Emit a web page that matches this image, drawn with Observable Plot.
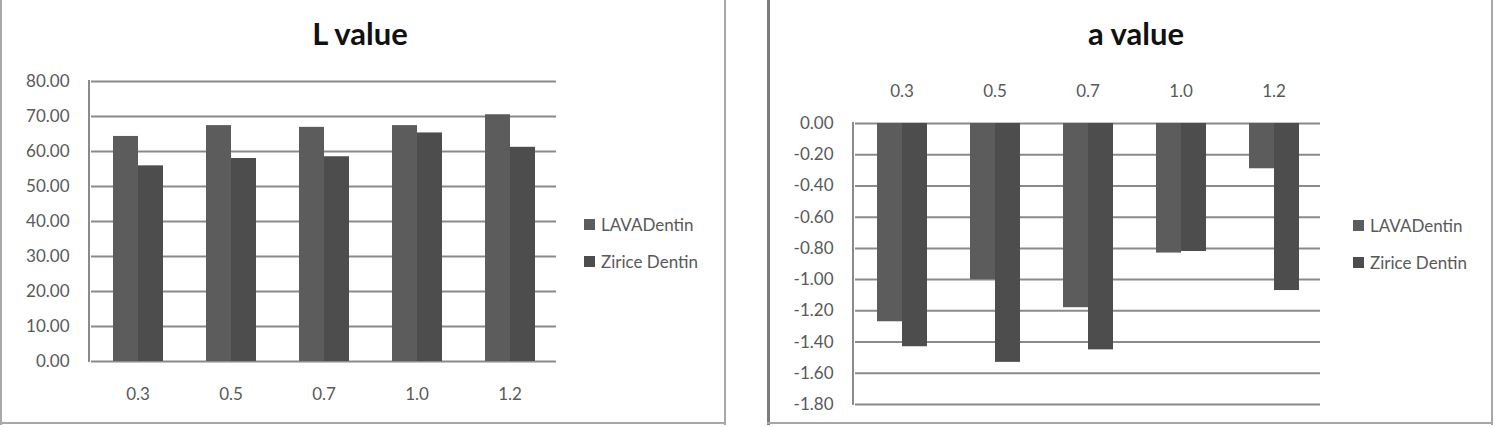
<!DOCTYPE html>
<html>
<head>
<meta charset="utf-8">
<script src="https://cdn.jsdelivr.net/npm/d3@7"></script>
<script src="https://cdn.jsdelivr.net/npm/@observablehq/plot@0.6"></script>
<style>
  body { margin: 0; background: #fff; width: 1505px; height: 427px; position: relative; overflow: hidden;
         font-family: Lato, "Open Sans", sans-serif; }
  .box { position: absolute; }
  .title { position: absolute; width: 300px; text-align: center; font-weight: bold; font-size: 31px;
           line-height: 1; color: #111; }
  .legend { position: absolute; font-size: 17px; color: #595959; }
  .legend .item { display: flex; align-items: center; height: 20px; margin-bottom: 17px; white-space: nowrap; }
  .legend .sw { width: 11px; height: 11px; margin-right: 6px; }
  .chart { position: absolute; top: 0; }
</style>
</head>
<body>
<!-- panel frames -->
<div class="box" style="left:0;top:0;width:2px;height:425px;background:#a8a8a8"></div>
<div class="box" style="left:724px;top:0;width:2px;height:425px;background:#a8a8a8"></div>
<div class="box" style="left:0;top:422px;width:726px;height:2px;background:#a8a8a8"></div>
<div class="box" style="left:767px;top:0;width:3px;height:425px;background:#7c7c7c"></div>
<div class="box" style="left:1491px;top:0;width:2px;height:425px;background:#a8a8a8"></div>
<div class="box" style="left:767px;top:422px;width:726px;height:2px;background:#a8a8a8"></div>

<div id="chartL" class="chart" style="left:0"></div>
<div id="chartA" class="chart" style="left:768px"></div>

<div class="title" id="titleL" style="left:210px;top:18px"></div>
<div class="title" id="titleA" style="left:986px;top:18px"></div>
<div class="legend" id="legL" style="left:584px;top:214px"></div>
<div class="legend" id="legA" style="left:1353px;top:215px"></div>

<script>
// ---- data ----
const categories = ["0.3", "0.5", "0.7", "1.0", "1.2"];
const seriesNames = ["LAVADentin", "Zirice Dentin"];
const lLava   = [64.3, 67.4, 66.9, 67.4, 70.5];
const lZirice = [55.9, 58.0, 58.5, 65.3, 61.2];
const aLava   = [-1.27, -1.00, -1.18, -0.83, -0.29];
const aZirice = [-1.43, -1.53, -1.45, -0.82, -1.07];
const lTicks = [0, 10, 20, 30, 40, 50, 60, 70, 80];
const aTicks = [0, -0.2, -0.4, -0.6, -0.8, -1.0, -1.2, -1.4, -1.6, -1.8];
const titles = ["L value", "a value"];
const colors = ["#5c5c5c", "#4d4d4d"];

function rows(a, b) {
  return categories.flatMap((c, i) => [
    {cat: c, s: seriesNames[0], v: a[i]},
    {cat: c, s: seriesNames[1], v: b[i]}
  ]);
}

function makeChart({data, ticks, domain, width, height, ml, mr, mt, mb, fxAnchor, fxPad}) {
  const p = Plot.plot({
    width, height,
    marginLeft: ml, marginRight: mr, marginTop: mt, marginBottom: mb,
    style: {fontFamily: "Lato, 'Open Sans', sans-serif", fontSize: "17px", color: "#595959", background: "transparent", overflow: "visible"},
    fx: {domain: categories, padding: 0, label: null},
    x: {domain: seriesNames, paddingInner: 0, paddingOuter: 0.8, axis: null},
    y: {domain, label: null},
    color: {domain: seriesNames, range: colors},
    marks: [
      Plot.ruleY(ticks, {stroke: "#8a8a8a", strokeWidth: 2}),
      Plot.barY(data, {fx: "cat", x: "s", y: "v", fill: "s"}),
      Plot.axisY(ticks, {tickSize: 0, tickPadding: 22, tickFormat: d => d.toFixed(2)}),
      Plot.axisFx({anchor: fxAnchor, tickSize: 0, tickPadding: fxPad, label: null})
    ]
  });
  const fx = p.scale("fx"), y = p.scale("y");
  d3.select(p).append("line")
    .attr("x1", fx.range[0]).attr("x2", fx.range[0])
    .attr("y1", Math.min(...y.range) - 1).attr("y2", Math.max(...y.range) + 1)
    .attr("stroke", "#8a8a8a").attr("stroke-width", 2);
  return p;
}

document.getElementById("chartL").append(makeChart({
  data: rows(lLava, lZirice), ticks: lTicks, domain: [0, 80],
  width: 727, height: 425, ml: 89, mr: 170, mt: 81, mb: 64, fxAnchor: "bottom", fxPad: 26
}));
document.getElementById("chartA").append(makeChart({
  data: rows(aLava, aZirice), ticks: aTicks, domain: [-1.8, 0],
  width: 737, height: 425, ml: 85, mr: 184, mt: 123, mb: 21, fxAnchor: "top", fxPad: 27
}));

document.getElementById("titleL").textContent = titles[0];
document.getElementById("titleA").textContent = titles[1];
for (const id of ["legL", "legA"]) {
  const el = document.getElementById(id);
  seriesNames.forEach((s, i) => {
    const it = document.createElement("div"); it.className = "item";
    const sw = document.createElement("span"); sw.className = "sw"; sw.style.background = colors[i];
    const tx = document.createElement("span"); tx.textContent = s;
    it.append(sw, tx); el.append(it);
  });
}
</script>
</body>
</html>
